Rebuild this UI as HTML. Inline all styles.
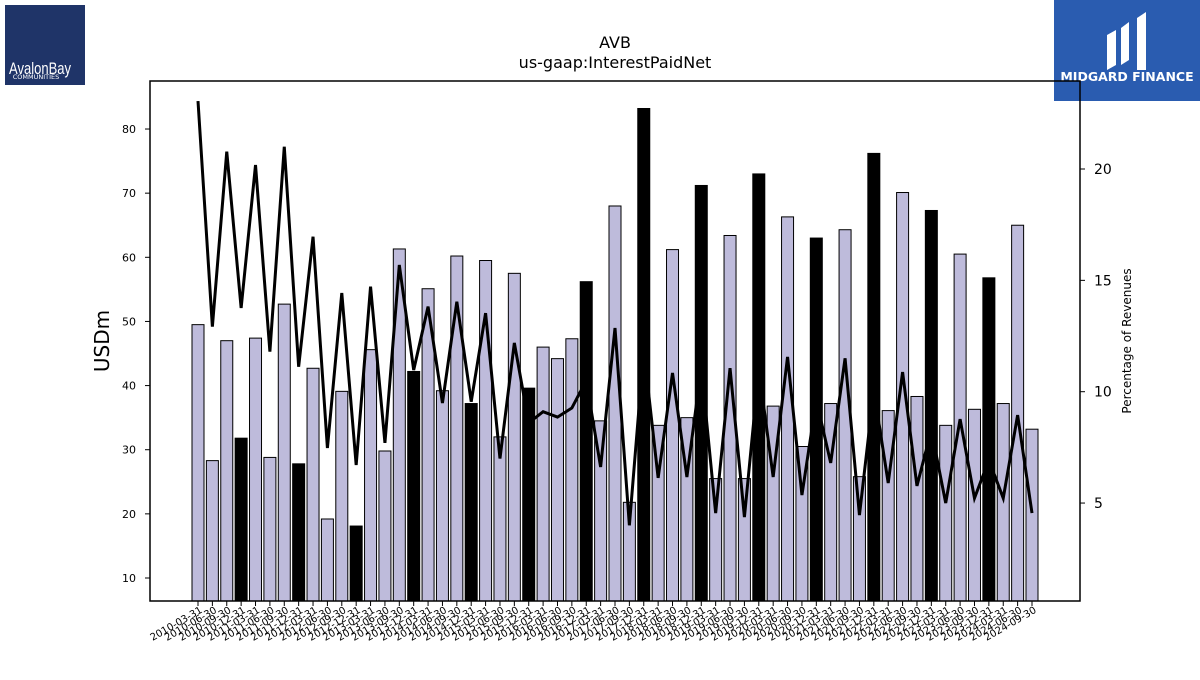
<!DOCTYPE html>
<html><head><meta charset="utf-8"><style>
body{margin:0;background:#fff;width:1200px;height:675px;overflow:hidden;font-family:"Liberation Sans","DejaVu Sans",sans-serif}
</style></head><body>
<svg id="chart" width="1200" height="675" xmlns="http://www.w3.org/2000/svg" font-family="DejaVu Sans, Liberation Sans, sans-serif">
<g>
<rect x="5" y="5" width="80" height="80" fill="#1f3468"/>
<text x="40" y="74" fill="#fff" font-size="17" text-anchor="middle" font-family="Liberation Sans Narrow, Liberation Sans, sans-serif" textLength="62" lengthAdjust="spacingAndGlyphs">AvalonBay</text>
<text x="36" y="79" fill="#fff" font-size="6.5" text-anchor="middle">COMMUNITIES</text>
</g>
<g>
<rect x="1054" y="0" width="146" height="101" fill="#2a5cb0"/>
<path d="M1107 35 L1116 30 L1116 65 L1107 70 Z M1121 28 L1129 22 L1129 60 L1121 65 Z M1137 18 L1146 12 L1146 70 L1137 70 Z" fill="#fff"/>
<text x="1127" y="81" fill="#fff" font-size="12.5" font-weight="bold" text-anchor="middle">MIDGARD FINANCE</text>
</g>
<text x="615" y="48" font-size="16" text-anchor="middle">AVB</text>
<text x="615" y="68" font-size="16" text-anchor="middle">us-gaap:InterestPaidNet</text>
<g id="bars"></g>
<g id="line"></g>
<rect x="150" y="81" width="930" height="520" fill="none" stroke="#000" stroke-width="1.5"/>
<g id="yl"></g>
<g id="yr"></g>
<g id="xa"></g>
<text transform="translate(109,341) rotate(-90)" font-size="20" text-anchor="middle">USDm</text>
<text transform="translate(1131,341) rotate(-90)" font-size="12" text-anchor="middle">Percentage of Revenues</text>
</svg>
<script>
const categories=["2010-03-31","2010-06-30","2010-09-30","2010-12-31","2011-03-31","2011-06-30","2011-09-30","2011-12-31","2012-03-31","2012-06-30","2012-09-30","2012-12-31","2013-03-31","2013-06-30","2013-09-30","2013-12-31","2014-03-31","2014-06-30","2014-09-30","2014-12-31","2015-03-31","2015-06-30","2015-09-30","2015-12-31","2016-03-31","2016-06-30","2016-09-30","2016-12-31","2017-03-31","2017-06-30","2017-09-30","2017-12-31","2018-03-31","2018-06-30","2018-09-30","2018-12-31","2019-03-31","2019-06-30","2019-09-30","2019-12-31","2020-03-31","2020-06-30","2020-09-30","2020-12-31","2021-03-31","2021-06-30","2021-09-30","2021-12-31","2022-03-31","2022-06-30","2022-09-30","2022-12-31","2023-03-31","2023-06-30","2023-09-30","2023-12-31","2024-03-31","2024-06-30","2024-09-30"];
const interestPaid=[49.5,28.3,47,31.8,47.4,28.8,52.7,27.8,42.7,19.2,39.1,18.1,45.6,29.8,61.3,42.2,55.1,39.2,60.2,37.2,59.5,32,57.5,39.6,46,44.2,47.3,56.2,34.5,68,21.8,83.2,33.8,61.2,35,71.2,25.5,63.4,25.5,73,36.8,66.3,30.5,63,37.2,64.3,25.8,76.2,36.1,70.1,38.3,67.3,33.8,60.5,36.3,56.8,37.2,65,33.2];
const pctRevenue=[23.05,12.92,20.78,13.76,20.18,11.8,21.0,11.12,16.96,7.47,14.43,6.71,14.72,7.7,15.69,10.97,13.82,9.49,14.04,9.55,13.53,7.0,12.19,8.6,9.1,8.86,9.27,10.5,6.62,12.86,4.0,11.87,6.13,10.84,6.17,11.1,4.55,11.06,4.37,11.0,6.17,11.56,5.36,9.63,6.8,11.5,4.46,10.07,5.9,10.88,5.77,8.28,5.0,8.77,5.22,6.93,5.22,8.95,4.55];
const leftTicks=[10,20,30,40,50,60,70,80];
const rightTicks=[5,10,15,20];
const NS="http://www.w3.org/2000/svg";
const yL=v=>578-(v-10)*64.14/10;
const yR=v=>169-(v-20)*22.27;
const xS=i=>198+i*(1032-198)/(categories.length-1);
function mk(t,a,p){const e=document.createElementNS(NS,t);for(const k in a)e.setAttribute(k,a[k]);p.appendChild(e);return e;}
const bars=document.getElementById('bars');
const base=601;
interestPaid.forEach((v,i)=>{
 const q4=categories[i].endsWith('12-31');
 const r=mk('rect',{x:xS(i)-6,y:yL(v),width:12,height:base-yL(v),fill:q4?'#000':'#bebbdb',stroke:'#000','stroke-width':1},bars);
 
 
});
const pts=pctRevenue.map((v,i)=>xS(i)+','+yR(v)).join(' ');
const pl=mk('polyline',{points:pts,fill:'none',stroke:'#000','stroke-width':3,'stroke-linejoin':'miter'},document.getElementById('line'));


const yl=document.getElementById('yl');
leftTicks.forEach(t=>{
 mk('line',{x1:145,x2:150,y1:yL(t),y2:yL(t),stroke:'#000'},yl);
 const tx=mk('text',{x:136,y:yL(t)+4,'font-size':11,'text-anchor':'end'},yl);
 tx.textContent=t;
 
 
});
const yr=document.getElementById('yr');
rightTicks.forEach(t=>{
 mk('line',{x1:1080,x2:1085,y1:yR(t),y2:yR(t),stroke:'#000'},yr);
 const tx=mk('text',{x:1094,y:yR(t)+5,'font-size':14},yr);
 tx.textContent=t;
 
 
});
const xa=document.getElementById('xa');
categories.forEach((c,i)=>{
 const x=xS(i);
 mk('line',{x1:x,x2:x,y1:601,y2:606,stroke:'#000'},xa);
 const tx=mk('text',{x:x+5,y:612,'font-size':10,'text-anchor':'end',transform:`rotate(-30 ${x+5} 612)`},xa);
 tx.textContent=c;
 
 
});
</script>
</body></html>
